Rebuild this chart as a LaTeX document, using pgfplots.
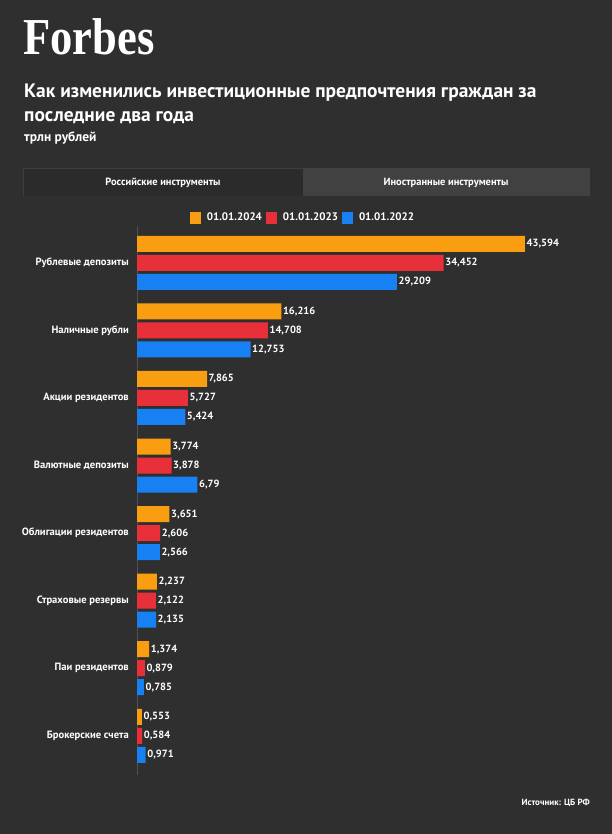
\documentclass[border=0pt]{standalone}
\usepackage{fontspec}
\setmainfont{PT Sans}
\newfontfamily\logofont{Liberation Serif}[FakeStretch=0.86]
\usepackage{pgfplots}
\pgfplotsset{compat=1.18}
\definecolor{bg}{HTML}{2F2F2F}
\definecolor{tabon}{HTML}{2B2B2B}
\definecolor{taboff}{HTML}{414141}
\definecolor{tabline}{HTML}{3D3D3D}
\definecolor{cor}{HTML}{F89E10}
\definecolor{cre}{HTML}{E8303A}
\definecolor{cbl}{HTML}{1780F2}
\definecolor{axl}{HTML}{50505A}
\begin{document}
\begin{tikzpicture}[x=1bp,y=1bp]
\fill[bg] (0,0) rectangle (612,834);
% logo
\node[anchor=base west, inner sep=0, text=white] at (23,834-55) {\fontsize{52}{52}\selectfont\logofont\bfseries Forbes};
% title
\node[anchor=base west, inner sep=0, text=white] at (24,834-98) {\fontsize{19.5}{23}\selectfont\bfseries Как изменились инвестиционные предпочтения граждан за};
\node[anchor=base west, inner sep=0, text=white] at (24,834-122) {\fontsize{19.5}{23}\selectfont\bfseries последние два года};
\node[anchor=base west, inner sep=0, text=white] at (24,834-142) {\fontsize{13.5}{15}\selectfont\bfseries трлн рублей};
% tabs
\fill[taboff] (23,834-196) rectangle (590,834-168);
\fill[tabon] (23,834-196) rectangle (303,834-168);
\draw[tabline, line width=1bp] (23.5,834-196) -- (23.5,834-168.5) -- (303,834-168.5);
\node[text=white, inner sep=0] at (163,834-183) {\fontsize{10.5}{12}\selectfont\bfseries Российские инструменты};
\node[text=white, inner sep=0] at (446,834-183) {\fontsize{10.5}{12}\selectfont\bfseries Иностранные инструменты};
% source
\node[anchor=base east, inner sep=0, text=white] at (590,834-806) {\fontsize{9}{10}\selectfont\bfseries Источник: ЦБ РФ};
\begin{axis}[
  at={(137bp,59bp)}, anchor=south west,
  scale only axis, width=445bp, height=549.3bp,
  xbar, bar width=16bp,
  xmin=0, xmax=50, ymin=0.42, ymax=8.55,
  axis x line=none, axis y line*=left,
  y axis line style={draw=axl, line width=0.8bp},
  ytick={1,...,8},
  yticklabels={Брокерские счета, Паи резидентов, Страховые резервы, Облигации резидентов, Валютные депозиты, Акции резидентов, Наличные рубли, Рублевые депозиты},
  major tick length=0,
  yticklabel style={font=\fontsize{10.6}{12}\selectfont\bfseries, text=white, inner sep=0, xshift=-8bp},
  point meta=x,
  nodes near coords={\pgfmathprintnumber[use comma,fixed,precision=3,assume math mode=true]{\pgfplotspointmeta}},
  nodes near coords style={font=\fontsize{10.5}{12}\selectfont\bfseries, text=white, anchor=west, inner sep=1.5bp},
  legend columns=3,
  legend style={draw=none, fill=none, text=white, font=\fontsize{11}{13}\selectfont\bfseries, at={(0.373,1.0146)}, anchor=center, /tikz/every odd column/.append style={column sep=4bp}, /tikz/every even column/.append style={column sep=2bp}},
  legend image code/.code={\fill (0bp,-6bp) rectangle (11bp,6bp);},
]
\addplot[fill=cor, draw=none, bar shift=19bp] coordinates {(43.594,8) (16.216,7) (7.865,6) (3.774,5) (3.651,4) (2.237,3) (1.374,2) (0.553,1)};
\addplot[fill=cre, draw=none, bar shift=0bp] coordinates {(34.452,8) (14.708,7) (5.727,6) (3.878,5) (2.606,4) (2.122,3) (0.879,2) (0.584,1)};
\addplot[fill=cbl, draw=none, bar shift=-19bp] coordinates {(29.209,8) (12.753,7) (5.424,6) (6.79,5) (2.566,4) (2.135,3) (0.785,2) (0.971,1)};
\legend{01.01.2024, 01.01.2023, 01.01.2022}
\end{axis}
\end{tikzpicture}
\end{document}
